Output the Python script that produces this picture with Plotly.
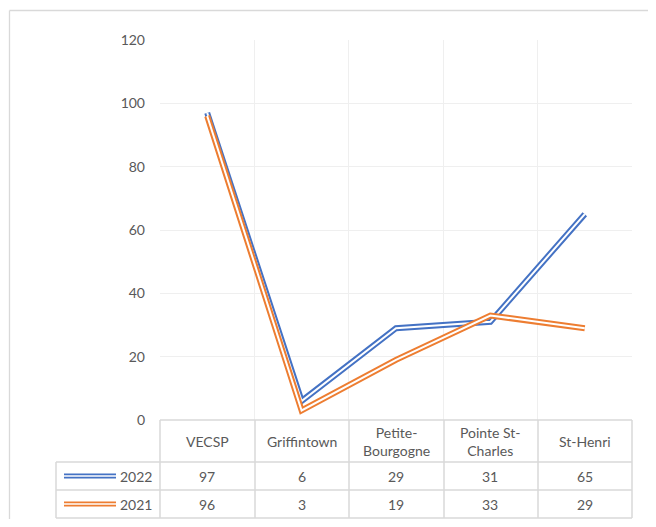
import plotly.graph_objects as go

categories = ["VECSP", "Griffintown", "Petite-Bourgogne", "Pointe St-Charles", "St-Henri"]
header_labels = ["VECSP", "Griffintown", "Petite-<br>Bourgogne", "Pointe St-<br>Charles", "St-Henri"]
series_names = ["2022", "2021"]
values_2022 = [97, 6, 29, 31, 65]
values_2021 = [96, 3, 19, 33, 29]
y_ticks = [0, 20, 40, 60, 80, 100, 120]

# page body has an 8px margin, so work in shifted pixel coordinates
OFF = 8
W, H = 656 - 2 * OFF, 527 - 2 * OFF
PL, PR, PT, PB = 160 - OFF, 632 - OFF, 40 - OFF, 420 - OFF

def fx(x):
    return (x - OFF - PL) / (PR - PL)

def fy(y):
    return (PB - (y - OFF)) / (PB - PT)

BLUE = "#4472C4"
ORANGE = "#ED7D31"
GRID = "#efefef"
TBL = "#d9d9d9"
TXT = "#595959"
FONT = "Lato"

xs = [i + 0.5 for i in range(len(categories))]

fig = go.Figure()
for vals, col in [(values_2022, BLUE), (values_2021, ORANGE)]:
    fig.add_trace(go.Scatter(x=xs, y=vals, mode="lines",
                             line=dict(color=col, width=6), hoverinfo="skip", showlegend=False))
    fig.add_trace(go.Scatter(x=xs, y=vals, mode="lines",
                             line=dict(color="white", width=2), hoverinfo="skip", showlegend=False))

shapes = []
# outer chart border (top and left edges visible)
shapes.append(dict(type="line", xref="paper", yref="paper", x0=fx(9.5), x1=fx(700), y0=fy(10.5), y1=fy(10.5),
                   line=dict(color=TBL, width=1.3), layer="below"))
shapes.append(dict(type="line", xref="paper", yref="paper", x0=fx(9.5), x1=fx(9.5), y0=fy(10.5), y1=fy(560),
                   line=dict(color=TBL, width=1.3), layer="below"))
# table lines
tcol_edges = [160, 255, 349, 444, 538, 632]
for xe in tcol_edges:
    shapes.append(dict(type="line", xref="paper", yref="paper", x0=fx(xe), x1=fx(xe), y0=fy(420), y1=fy(518),
                       line=dict(color=TBL, width=1.5)))
shapes.append(dict(type="line", xref="paper", yref="paper", x0=fx(56), x1=fx(56), y0=fy(462), y1=fy(518),
                   line=dict(color=TBL, width=1.5)))
shapes.append(dict(type="line", xref="paper", yref="paper", x0=fx(160), x1=fx(632), y0=fy(420), y1=fy(420),
                   line=dict(color=TBL, width=1.5)))
for yy in [462, 490, 518]:
    shapes.append(dict(type="line", xref="paper", yref="paper", x0=fx(56), x1=fx(632), y0=fy(yy), y1=fy(yy),
                       line=dict(color=TBL, width=1.5)))

annotations = []
for i, lab in enumerate(header_labels):
    annotations.append(dict(x=xs[i], xref="x", y=fy(441), yref="paper", text=lab, showarrow=False,
                            font=dict(family=FONT, size=14, color=TXT), xanchor="center", yanchor="middle"))
row_y = [476, 504]
for name, vals, col, ry in [(series_names[0], values_2022, BLUE, row_y[0]),
                            (series_names[1], values_2021, ORANGE, row_y[1])]:
    for i, v in enumerate(vals):
        annotations.append(dict(x=xs[i], xref="x", y=fy(ry), yref="paper", text=str(v), showarrow=False,
                                font=dict(family=FONT, size=14, color=TXT), xanchor="center", yanchor="middle"))
    annotations.append(dict(x=fx(154), xref="paper", y=fy(ry), yref="paper", text=name, showarrow=False,
                            font=dict(family=FONT, size=14, color=TXT), xanchor="right", yanchor="middle"))
    shapes.append(dict(type="line", xref="paper", yref="paper", x0=fx(64), x1=fx(116), y0=fy(ry), y1=fy(ry),
                       line=dict(color=col, width=5)))
    shapes.append(dict(type="line", xref="paper", yref="paper", x0=fx(64), x1=fx(116), y0=fy(ry), y1=fy(ry),
                       line=dict(color="white", width=1.5)))

fig.update_layout(
    width=W, height=H,
    margin=dict(l=PL, r=W - PR, t=PT, b=H - PB),
    paper_bgcolor="white", plot_bgcolor="white",
    showlegend=False,
    shapes=shapes, annotations=annotations,
    xaxis=dict(range=[0, len(categories)], tickvals=list(range(len(categories) + 1)),
               showticklabels=False, showgrid=True, gridcolor=GRID, gridwidth=1,
               zeroline=False, showline=False, ticks="", fixedrange=True),
    yaxis=dict(range=[0, 120], tickvals=y_ticks, showgrid=True, gridcolor=GRID, gridwidth=1,
               zeroline=False, showline=False, ticks="", ticklabelstandoff=14,
               tickfont=dict(family=FONT, size=14, color=TXT), fixedrange=True),
)

fig.write_html("out.html")
